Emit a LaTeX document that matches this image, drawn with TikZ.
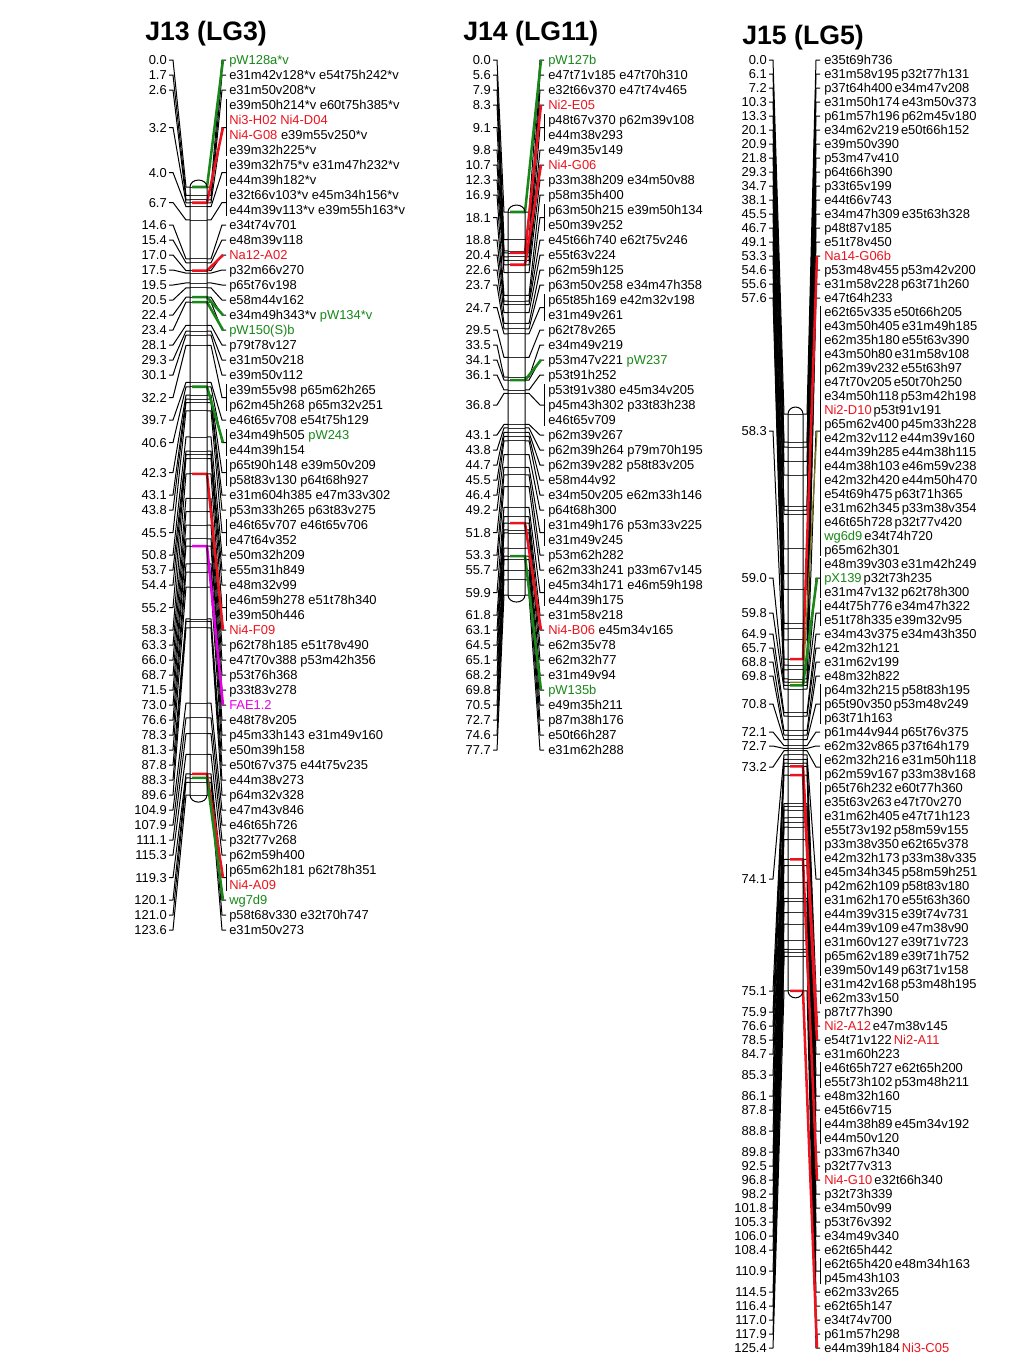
\documentclass[tikz,border=0pt]{standalone}
\usepackage{fontspec}
\setmainfont{Liberation Sans}
\definecolor{mkred}{RGB}{235,20,30}
\definecolor{mkgreen}{RGB}{25,135,25}
\definecolor{mkmag}{RGB}{230,0,230}
\definecolor{mkolv}{RGB}{125,120,30}
\newcommand\mkR[1]{\textcolor{mkred}{#1}}
\newcommand\mkG[1]{\textcolor{mkgreen}{#1}}
\newcommand\mkM[1]{\textcolor{mkmag}{#1}}
\newcommand\mksp{\hspace{1.5pt}}
\tikzset{
 conn/.style={line width=0.75pt, line join=round},
 barln/.style={line width=0.6pt, black!80},
 barout/.style={line width=0.75pt},
 kred/.style={draw=mkred, line width=1.9pt},
 kgrn/.style={draw=mkgreen, line width=1.9pt},
 kmag/.style={draw=mkmag, line width=1.9pt},
 kolv/.style={draw=mkolv, line width=0.9pt},
 kblk/.style={draw=none},
 numlab/.style={anchor=base east, inner sep=0pt, font=\fontsize{9.7pt}{11pt}\selectfont},
 lab/.style={anchor=base west, inner sep=0pt, font=\fontsize{9.7pt}{11pt}\selectfont},
 ttl/.style={anchor=base west, inner sep=0pt, font=\fontsize{20pt}{24pt}\selectfont\bfseries}
}
\newcommand\chromo{%
 \pgfmathsetmacro\botY{\topY+\scl*\endcm}%
 \fill[white] (\bL,\topY) -- (\bL,\botY) arc[start angle=180,end angle=360,x radius=\rx,y radius=5.25pt] -- (\bR,\topY) arc[start angle=0,end angle=180,x radius=\rx,y radius=5.25pt] -- cycle;
 \foreach \cm/\fa/\la/\st [count=\k] in \grp {%
   \pgfmathsetmacro\ly{\firstY+\spY*(\fa+\la)/2}%
   \pgfmathsetmacro\by{\topY+\scl*\cm}%
   \node[numlab] (n\cid-\k) at (\numR,\ly+4.6) {\cm};
   \coordinate (bl\cid-\k) at (\bL,\by);
   \coordinate (br\cid-\k) at (\bR,\by);
   \draw[barln] (bl\cid-\k) -- (br\cid-\k);
   \draw[conn] (\numR+2,\ly) -- (\numR+6,\ly) -- (\bL-4,\by) -- (bl\cid-\k);
   \draw[conn] (br\cid-\k) -- (\bR+4,\by) -- (\brX-4,\ly) -- (\brX,\ly);
   \ifnum\fa<\la
     \pgfmathsetmacro\yf{\firstY+\spY*\fa-6}%
     \pgfmathsetmacro\yl{\firstY+\spY*\la+6}%
     \draw[conn] (\brX,\yf) -- (\brX,\yl);
   \fi
 }
 \foreach \cm/\fa/\la/\st in \grp {%
   \pgfmathsetmacro\ly{\firstY+\spY*(\fa+\la)/2}%
   \pgfmathsetmacro\by{\topY+\scl*\cm}%
   \draw[\st, line join=round] (\bL+2,\by) -- (\bR,\by) -- (\brX-3,\ly);
 }
 \foreach \ii/\tx in \txt {%
   \node[lab] (t\cid-\ii) at (\txtL,\firstY+\spY*\ii+4.6) {\tx};
 }
 \draw[barout] (\bL,\topY) -- (\bL,\botY) arc[start angle=180,end angle=360,x radius=\rx,y radius=5.25pt] -- (\bR,\topY) arc[start angle=0,end angle=180,x radius=\rx,y radius=5.25pt] -- cycle;
}
\begin{document}
\begin{tikzpicture}[x=0.75pt,y=-0.75pt]
\useasboundingbox (0,0) rectangle (1024,1365);
\fill[white] (0,0) rectangle (1024,1365);
\node[ttl] (h13) at (145,40) {J13 (LG3)};
\node[ttl] (h14) at (463,40) {J14 (LG11)};
\node[ttl] (h15) at (742,44) {J15 (LG5)};
% ---------------- J13
\def\cid{13}\def\numR{167}\def\bL{190}\def\bR{207}\def\brX{226}\def\txtL{229}
\def\topY{187}\def\scl{4.92}\def\firstY{60}\def\spY{15}\def\endcm{123.6}\def\rx{6.375pt}
\def\grp{0.0/0/0/kgrn,1.7/1/1/kblk,2.6/2/2/kblk,3.2/3/6/kred,4.0/7/8/kblk,6.7/9/10/kblk,14.6/11/11/kblk,15.4/12/12/kblk,17.0/13/13/kred,17.5/14/14/kblk,19.5/15/15/kblk,20.5/16/16/kblk,22.4/17/17/kgrn,23.4/18/18/kgrn,28.1/19/19/kblk,29.3/20/20/kblk,30.1/21/21/kblk,32.2/22/23/kblk,39.7/24/24/kblk,40.6/25/26/kgrn,42.3/27/28/kblk,43.1/29/29/kblk,43.8/30/30/kblk,45.5/31/32/kblk,50.8/33/33/kblk,53.7/34/34/kblk,54.4/35/35/kblk,55.2/36/37/kblk,58.3/38/38/kred,63.3/39/39/kblk,66.0/40/40/kblk,68.7/41/41/kblk,71.5/42/42/kblk,73.0/43/43/kmag,76.6/44/44/kblk,78.3/45/45/kblk,81.3/46/46/kblk,87.8/47/47/kblk,88.3/48/48/kblk,89.6/49/49/kblk,104.9/50/50/kblk,107.9/51/51/kblk,111.1/52/52/kblk,115.3/53/53/kblk,119.3/54/55/kred,120.1/56/56/kgrn,121.0/57/57/kblk,123.6/58/58/kblk}
\def\txt{0/\mkG{pW128a*v},
1/e31m42v128*v e54t75h242*v,
2/e31m50v208*v,
3/e39m50h214*v e60t75h385*v,
4/\mkR{Ni3-H02 Ni4-D04},
5/\mkR{Ni4-G08} e39m55v250*v,
6/e39m32h225*v,
7/e39m32h75*v e31m47h232*v,
8/e44m39h182*v,
9/e32t66v103*v e45m34h156*v,
10/e44m39v113*v e39m55h163*v,
11/e34t74v701,
12/e48m39v118,
13/\mkR{Na12-A02},
14/p32m66v270,
15/p65t76v198,
16/e58m44v162,
17/e34m49h343*v \mkG{pW134*v},
18/\mkG{pW150(S)b},
19/p79t78v127,
20/e31m50v218,
21/e39m50v112,
22/e39m55v98 p65m62h265,
23/p62m45h268 p65m32v251,
24/e46t65v708 e54t75h129,
25/e34m49h505 \mkG{pW243},
26/e44m39h154,
27/p65t90h148 e39m50v209,
28/p58t83v130 p64t68h927,
29/e31m604h385 e47m33v302,
30/p53m33h265 p63t83v275,
31/e46t65v707 e46t65v706,
32/e47t64v352,
33/e50m32h209,
34/e55m31h849,
35/e48m32v99,
36/e46m59h278 e51t78h340,
37/e39m50h446,
38/\mkR{Ni4-F09},
39/p62t78h185 e51t78v490,
40/e47t70v388 p53m42h356,
41/p53t76h368,
42/p33t83v278,
43/\mkM{FAE1.2},
44/e48t78v205,
45/p45m33h143 e31m49v160,
46/e50m39h158,
47/e50t67v375 e44t75v235,
48/e44m38v273,
49/p64m32v328,
50/e47m43v846,
51/e46t65h726,
52/p32t77v268,
53/p62m59h400,
54/p65m62h181 p62t78h351,
55/\mkR{Ni4-A09},
56/\mkG{wg7d9},
57/p58t68v330 e32t70h747,
58/e31m50v273}
\chromo
% ---------------- J14
\def\cid{14}\def\numR{491}\def\bL{508}\def\bR{525}\def\brX{544}\def\txtL{548}
\def\topY{212}\def\scl{4.93}\def\firstY{60}\def\spY{15}\def\endcm{77.7}\def\rx{6.375pt}
\def\grp{0.0/0/0/kgrn,5.6/1/1/kblk,7.9/2/2/kblk,8.3/3/3/kred,9.1/4/5/kblk,9.8/6/6/kblk,10.7/7/7/kred,12.3/8/8/kblk,16.9/9/9/kblk,18.1/10/11/kblk,18.8/12/12/kblk,20.4/13/13/kblk,22.6/14/14/kblk,23.7/15/15/kblk,24.7/16/17/kblk,29.5/18/18/kblk,33.5/19/19/kblk,34.1/20/20/kgrn,36.1/21/21/kblk,36.8/22/24/kblk,43.1/25/25/kblk,43.8/26/26/kblk,44.7/27/27/kblk,45.5/28/28/kblk,46.4/29/29/kblk,49.2/30/30/kblk,51.8/31/32/kblk,53.3/33/33/kblk,55.7/34/34/kblk,59.9/35/36/kblk,61.8/37/37/kblk,63.1/38/38/kred,64.5/39/39/kblk,65.1/40/40/kblk,68.2/41/41/kblk,69.8/42/42/kgrn,70.5/43/43/kblk,72.7/44/44/kblk,74.6/45/45/kblk,77.7/46/46/kblk}
\def\txt{0/\mkG{pW127b},
1/e47t71v185 e47t70h310,
2/e32t66v370 e47t74v465,
3/\mkR{Ni2-E05},
4/p48t67v370 p62m39v108,
5/e44m38v293,
6/e49m35v149,
7/\mkR{Ni4-G06},
8/p33m38h209 e34m50v88,
9/p58m35h400,
10/p63m50h215 e39m50h134,
11/e50m39v252,
12/e45t66h740 e62t75v246,
13/e55t63v224,
14/p62m59h125,
15/p63m50v258 e34m47h358,
16/p65t85h169 e42m32v198,
17/e31m49v261,
18/p62t78v265,
19/e34m49v219,
20/p53m47v221 \mkG{pW237},
21/p53t91h252,
22/p53t91v380 e45m34v205,
23/p45m43h302 p33t83h238,
24/e46t65v709,
25/p62m39v267,
26/p62m39h264 p79m70h195,
27/p62m39v282 p58t83v205,
28/e58m44v92,
29/e34m50v205 e62m33h146,
30/p64t68h300,
31/e31m49h176 p53m33v225,
32/e31m49v245,
33/p53m62h282,
34/e62m33h241 p33m67v145,
35/e45m34h171 e46m59h198,
36/e44m39h175,
37/e31m58v218,
38/\mkR{Ni4-B06} e45m34v165,
39/e62m35v78,
40/e62m32h77,
41/e31m49v94,
42/\mkG{pW135b},
43/e49m35h211,
44/p87m38h176,
45/e50t66h287,
46/e31m62h288}
\chromo
% ---------------- J15
\def\cid{15}\def\numR{767}\def\bL{788}\def\bR{803}\def\brX{820}\def\txtL{824}
\def\topY{414}\def\scl{4.6}\def\firstY{60}\def\spY{14}\def\endcm{125.4}\def\rx{5.625pt}
\def\grp{0.0/0/0/kblk,6.1/1/1/kblk,7.2/2/2/kblk,10.3/3/3/kblk,13.3/4/4/kblk,20.1/5/5/kblk,20.9/6/6/kblk,21.8/7/7/kblk,29.3/8/8/kblk,34.7/9/9/kblk,38.1/10/10/kblk,45.5/11/11/kblk,46.7/12/12/kblk,49.1/13/13/kblk,53.3/14/14/kred,54.6/15/15/kblk,55.6/16/16/kblk,57.6/17/17/kblk,58.3/18/35/kolv,59.0/36/38/kgrn,59.8/39/40/kblk,64.9/41/41/kblk,65.7/42/42/kblk,68.8/43/43/kblk,69.8/44/44/kblk,70.8/45/47/kblk,72.1/48/48/kblk,72.7/49/49/kblk,73.2/50/51/kblk,74.1/52/65/kblk,75.1/66/67/kblk,75.9/68/68/kblk,76.6/69/69/kred,78.5/70/70/kred,84.7/71/71/kblk,85.3/72/73/kblk,86.1/74/74/kblk,87.8/75/75/kblk,88.8/76/77/kblk,89.8/78/78/kblk,92.5/79/79/kblk,96.8/80/80/kred,98.2/81/81/kblk,101.8/82/82/kblk,105.3/83/83/kblk,106.0/84/84/kblk,108.4/85/85/kblk,110.9/86/87/kblk,114.5/88/88/kblk,116.4/89/89/kblk,117.0/90/90/kblk,117.9/91/91/kblk,125.4/92/92/kred}
\def\txt{0/e35t69h736,
1/e31m58v195\mksp p32t77h131,
2/p37t64h400\mksp e34m47v208,
3/e31m50h174\mksp e43m50v373,
4/p61m57h196\mksp p62m45v180,
5/e34m62v219\mksp e50t66h152,
6/e39m50v390,
7/p53m47v410,
8/p64t66h390,
9/p33t65v199,
10/e44t66v743,
11/e34m47h309\mksp e35t63h328,
12/p48t87v185,
13/e51t78v450,
14/\mkR{Na14-G06b},
15/p53m48v455\mksp p53m42v200,
16/e31m58v228\mksp p63t71h260,
17/e47t64h233,
18/e62t65v335\mksp e50t66h205,
19/e43m50h405\mksp e31m49h185,
20/e62m35h180\mksp e55t63v390,
21/e43m50h80\mksp e31m58v108,
22/p62m39v232\mksp e55t63h97,
23/e47t70v205\mksp e50t70h250,
24/e34m50h118\mksp p53m42h198,
25/\mkR{Ni2-D10}\mksp p53t91v191,
26/p65m62v400\mksp p45m33h228,
27/e42m32v112\mksp e44m39v160,
28/e44m39h285\mksp e44m38h115,
29/e44m38h103\mksp e46m59v238,
30/e42m32h420\mksp e44m50h470,
31/e54t69h475\mksp p63t71h365,
32/e31m62h345\mksp p33m38v354,
33/e46t65h728\mksp p32t77v420,
34/\mkG{wg6d9}\mksp e34t74h720,
35/p65m62h301,
36/e48m39v303\mksp e31m42h249,
37/\mkG{pX139}\mksp p32t73h235,
38/e31m47v132\mksp p62t78h300,
39/e44t75h776\mksp e34m47h322,
40/e51t78h335\mksp e39m32v95,
41/e34m43v375\mksp e34m43h350,
42/e42m32h121,
43/e31m62v199,
44/e48m32h822,
45/p64m32h215\mksp p58t83h195,
46/p65t90v350\mksp p53m48v249,
47/p63t71h163,
48/p61m44v944\mksp p65t76v375,
49/e62m32v865\mksp p37t64h179,
50/e62m32h216\mksp e31m50h118,
51/p62m59v167\mksp p33m38v168,
52/p65t76h232\mksp e60t77h360,
53/e35t63v263\mksp e47t70v270,
54/e31m62h405\mksp e47t71h123,
55/e55t73v192\mksp p58m59v155,
56/p33m38v350\mksp e62t65v378,
57/e42m32h173\mksp p33m38v335,
58/e45m34h345\mksp p58m59h251,
59/p42m62h109\mksp p58t83v180,
60/e31m62h170\mksp e55t63h360,
61/e44m39v315\mksp e39t74v731,
62/e44m39v109\mksp e47m38v90,
63/e31m60v127\mksp e39t71v723,
64/p65m62v189\mksp e39t71h752,
65/e39m50v149\mksp p63t71v158,
66/e31m42v168\mksp p53m48h195,
67/e62m33v150,
68/p87t77h390,
69/\mkR{Ni2-A12}\mksp e47m38v145,
70/e54t71v122\mksp\mkR{Ni2-A11},
71/e31m60h223,
72/e46t65h727\mksp e62t65h200,
73/e55t73h102\mksp p53m48h211,
74/e48m32h160,
75/e45t66v715,
76/e44m38h89\mksp e45m34v192,
77/e44m50v120,
78/p33m67h340,
79/p32t77v313,
80/\mkR{Ni4-G10}\mksp e32t66h340,
81/p32t73h339,
82/e34m50v99,
83/p53t76v392,
84/e34m49v340,
85/e62t65h442,
86/e62t65h420\mksp e48m34h163,
87/p45m43h103,
88/e62m33v265,
89/e62t65h147,
90/e34t74v700,
91/p61m57h298,
92/e44m39h184\mksp\mkR{Ni3-C05}}
\chromo
\end{tikzpicture}
\end{document}
